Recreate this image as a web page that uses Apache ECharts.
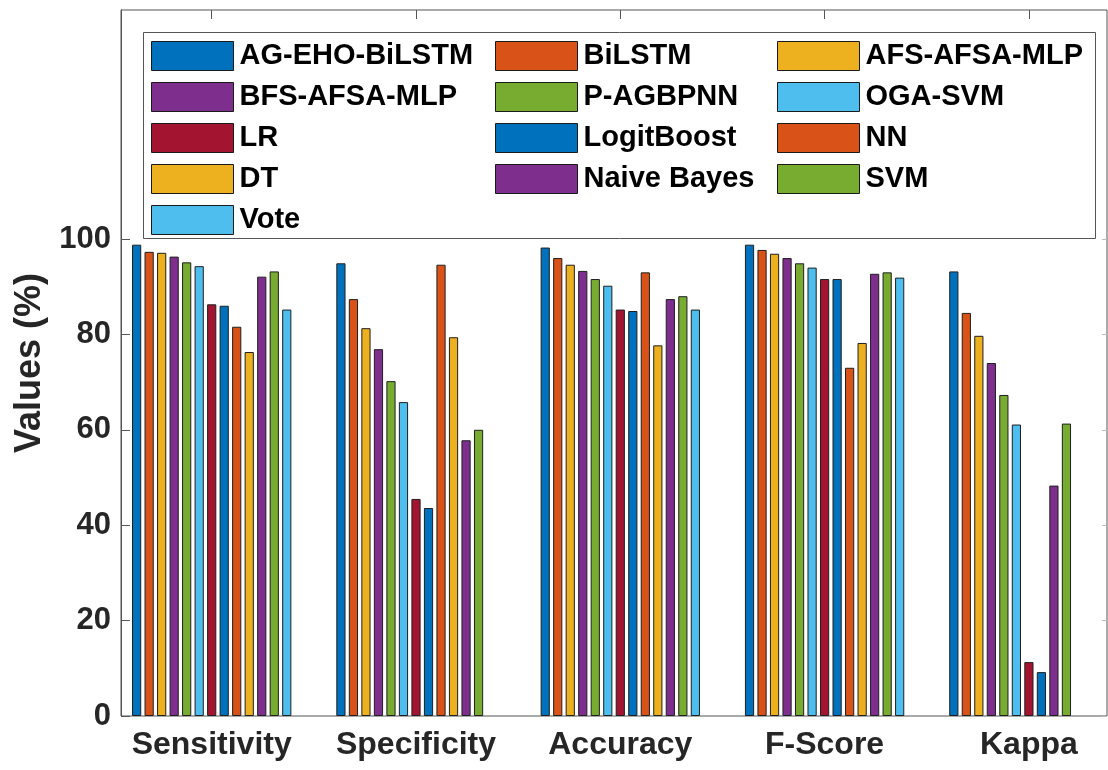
<!DOCTYPE html>
<html>
<head>
<meta charset="utf-8">
<script src="https://cdn.jsdelivr.net/npm/echarts@6/dist/echarts.min.js"></script>
<style>
html,body{margin:0;padding:0;background:#fff;}
#chart{width:1108px;height:770px;}
</style>
</head>
<body>
<div id="chart"></div>
<script>
// ---- data ----
const categories = ['Sensitivity', 'Specificity', 'Accuracy', 'F-Score', 'Kappa'];
const methods = ['AG-EHO-BiLSTM', 'BiLSTM', 'AFS-AFSA-MLP', 'BFS-AFSA-MLP', 'P-AGBPNN', 'OGA-SVM',
                 'LR', 'LogitBoost', 'NN', 'DT', 'Naive Bayes', 'SVM', 'Vote'];
// values per metric, in method order (null = not reported)
const sensitivity = [98.8, 97.3, 97.1, 96.3, 95.1, 94.3, 86.3, 86.0, 81.6, 76.3, 92.1, 93.2, 85.2];
const specificity = [94.9, 87.4, 81.3, 76.9, 70.2, 65.8, 45.5, 43.6, 94.6, 79.4, 57.8, 60.0, null];
const accuracy    = [98.2, 96.0, 94.6, 93.3, 91.6, 90.2, 85.2, 84.9, 93.0, 77.7, 87.4, 88.0, 85.2];
const fScore      = [98.8, 97.7, 96.9, 96.0, 94.9, 94.0, 91.6, 91.6, 73.0, 78.2, 92.7, 93.0, 91.9];
const kappa       = [93.2, 84.5, 79.7, 74.0, 67.3, 61.1, 11.3, 9.2, null, null, 48.3, 61.3, null];
const yTickValues = [0, 20, 40, 60, 80, 100];
const yMax = 148;

// ---- style ----
const colors = ['#0072BD', '#D95319', '#EDB120', '#7E2F8E', '#77AC30', '#4DBEEE', '#A2142F',
                '#0072BD', '#D95319', '#EDB120', '#7E2F8E', '#77AC30', '#4DBEEE'];
const FONT = "'Liberation Sans', Arial, Helvetica, sans-serif";
const metricRows = [sensitivity, specificity, accuracy, fScore, kappa];

// bars in each group are packed left in method order (missing values skipped)
const slotData = methods.map(() => categories.map(() => null));
metricRows.forEach((row, c) => {
  const present = [];
  row.forEach((v, m) => { if (v !== null && v !== undefined) present.push(m); });
  present.forEach((m, s) => {
    const item = { value: row[m] };
    if (m !== s) item.itemStyle = { color: colors[m] };
    slotData[s][c] = item;
  });
});

const series = methods.map((name, s) => ({
  type: 'bar',
  name: name,
  xAxisIndex: 1,
  yAxisIndex: 2,
  barWidth: 9.2,
  barGap: '36%',
  itemStyle: { color: colors[s], borderColor: '#1f1f1f', borderWidth: 1 },
  emphasis: { disabled: true },
  data: slotData[s]
}));

function legendCol(idx, left) {
  return {
    data: idx.map(i => methods[i]),
    orient: 'vertical',
    left: left, top: 41,
    padding: 0,
    itemWidth: 82, itemHeight: 29, itemGap: 11,
    icon: 'rect',
    selectedMode: false,
    itemStyle: { borderColor: '#1a1a1a', borderWidth: 1 },
    textStyle: { fontSize: 29, fontWeight: 'bold', color: '#000', fontFamily: FONT, lineHeight: 29, padding: [0, 0, 0, 1] }
  };
}

const chart = echarts.init(document.getElementById('chart'), null, { renderer: 'canvas' });
chart.setOption({
  animation: false,
  backgroundColor: '#fff',
  textStyle: { fontFamily: FONT },
  grid: [
    { left: 121, right: 1, top: 10, bottom: 54, show: true, borderColor: '#555', borderWidth: 1,
      backgroundColor: 'transparent', containLabel: false, outerBoundsMode: 'none' },
    { left: 109.55, width: 1021.5, top: 10, bottom: 54, show: false, containLabel: false, outerBoundsMode: 'none' }
  ],
  xAxis: [
    { type: 'value', gridIndex: 0, min: 0, max: 1, show: false },
    { type: 'category', gridIndex: 1, data: categories, position: 'bottom',
      axisLine: { show: false },
      axisTick: { show: true, inside: true, alignWithLabel: true, interval: 0, length: 9, lineStyle: { color: '#333' } },
      axisLabel: { interval: 0, hideOverlap: false, fontSize: 32, fontWeight: 'bold', color: '#262626', fontFamily: FONT, margin: 13 },
      splitLine: { show: false } },
    { type: 'category', gridIndex: 1, data: categories, position: 'top',
      axisLine: { show: false },
      axisTick: { show: true, inside: true, alignWithLabel: true, interval: 0, length: 9, lineStyle: { color: '#555' } },
      axisLabel: { show: false }, splitLine: { show: false } }
  ],
  yAxis: [
    { type: 'value', gridIndex: 0, min: 0, max: yMax, position: 'left',
      name: 'Values (%)', nameLocation: 'middle', nameGap: 73, nameRotate: 90,
      nameTextStyle: { fontSize: 36, fontWeight: 'bold', color: '#262626', fontFamily: FONT },
      axisLine: { show: true, lineStyle: { color: '#555' } },
      axisTick: { show: true, inside: true, length: 9, customValues: yTickValues, lineStyle: { color: '#555' } },
      axisLabel: { customValues: yTickValues, fontSize: 31, fontWeight: 'bold', color: '#262626', fontFamily: FONT, margin: 10 },
      splitLine: { show: false } },
    { type: 'value', gridIndex: 0, min: 0, max: yMax, position: 'right',
      axisLine: { show: false },
      axisTick: { show: true, inside: true, length: 5, customValues: yTickValues, lineStyle: { color: '#bbb' } },
      axisLabel: { show: false }, splitLine: { show: false } },
    { type: 'value', gridIndex: 1, min: 0, max: yMax, show: false, splitLine: { show: false } }
  ],
  graphic: [
    { type: 'rect', left: 143, top: 32, z: 3,
      shape: { width: 952, height: 206 },
      style: { fill: '#fff', stroke: '#555', lineWidth: 1 } }
  ],
  legend: [
    legendCol([0, 3, 6, 9, 12], 151),
    legendCol([1, 4, 7, 10], 495),
    legendCol([2, 5, 8, 11], 777)
  ],
  series: series
});
</script>
</body>
</html>
